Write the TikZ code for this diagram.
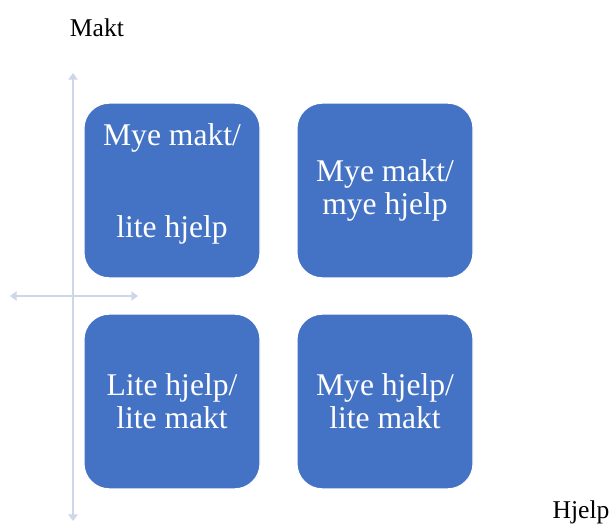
\documentclass[tikz,border=0pt]{standalone}
\usepackage{fontspec}
\setmainfont{Liberation Serif}
\usetikzlibrary{positioning,arrows.meta}
\definecolor{boxblue}{HTML}{4472C4}
\definecolor{axisgray}{HTML}{D0D6EA}

\begin{document}
\begin{tikzpicture}[x=0.75pt,y=-0.75pt,
  quad/.style={fill=boxblue,draw=white,line width=0.8pt,rounded corners=19pt,
    minimum width=132pt,minimum height=131pt,inner sep=0pt,
    text=white,align=center,font=\fontsize{23.7}{24.75}\selectfont},
  axis/.style={draw=axisgray,line width=1.8pt,
    {Triangle[length=5pt,width=7pt]}-{Triangle[length=5pt,width=7pt]}},
  lbl/.style={font=\fontsize{19.2}{22}\selectfont}]
\useasboundingbox (0,0) rectangle (613,525);
% Ends of the two axes
\coordinate (ytop) at (73,73);
\coordinate (ybot) at (73,521);
\coordinate (xleft) at (10,296);
\coordinate (xright) at (138,296);
% Draw the axes
\draw[axis] (ytop) -- (ybot);
\draw[axis] (xleft) -- (xright);
% The four quadrants
\node[quad] (ml) at (172,190.5) {};
\node[quad] (mm) at (385,190.5) {Mye makt/\\mye hjelp};
\node[quad] (ll) at (172,401.5) {Lite hjelp/\\lite makt};
\node[quad] (hl) at (385,401.5) {Mye hjelp/\\lite makt};
% Text of the first quadrant, with a gap
\node[quad,fill=none,draw=none,minimum size=0pt] (mltext) at (172,184)
  {Mye makt/\\[44pt]lite hjelp};
% Axis labels
\node[lbl] (makt) at (97,28) {Makt};
\node[lbl] (hjelp) at (581,512) {Hjelp};
\end{tikzpicture}
\end{document}
